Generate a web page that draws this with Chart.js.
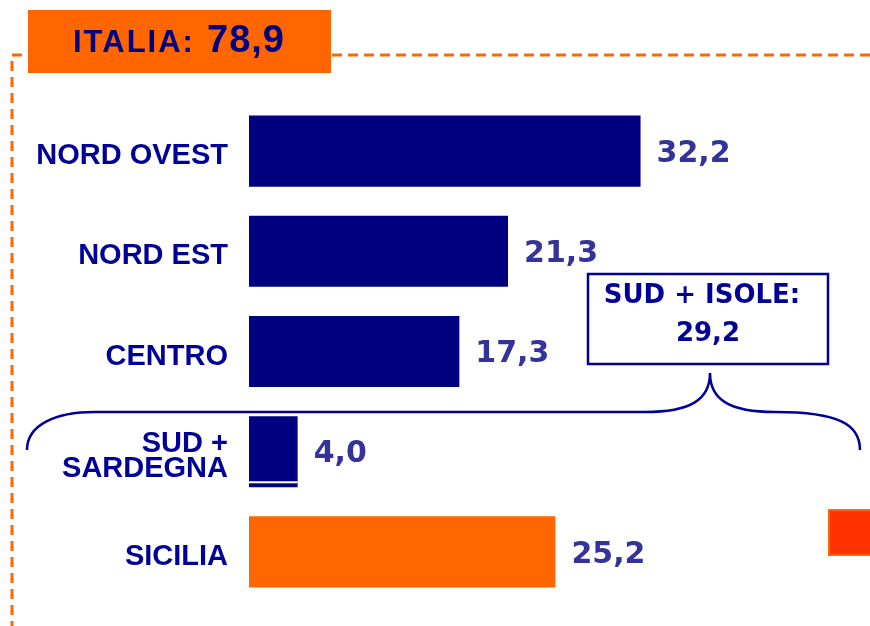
<!DOCTYPE html>
<html>
<head>
<meta charset="utf-8">
<script src="https://cdn.jsdelivr.net/npm/chart.js@4.4.1/dist/chart.umd.min.js"></script>
<style>
  html, body { margin: 0; padding: 0; background: #fff; }
  #wrap { width: 870px; height: 626px; position: relative; }
</style>
</head>
<body>
<div id="wrap"><canvas id="regionChart"></canvas></div>
<script>
// data
const regions = ['NORD OVEST', 'NORD EST', 'CENTRO', ['SUD +', 'SARDEGNA'], 'SICILIA'];
const values = [32.2, 21.3, 17.3, 4.0, 25.2];
const barColors = ['#000080', '#000080', '#000080', '#000080', '#FF6600'];
const italiaTotal = 78.9;
const sudIsoleTotal = 29.2;

const NAVY = '#000099';
const fmt = v => v.toFixed(1).replace('.', ',');

// frame, header box, brace and labels
const decorations = {
  id: 'decorations',
  beforeDraw(chart) {
    const ctx = chart.ctx;
    ctx.save();
    ctx.strokeStyle = '#FF6600';
    ctx.lineWidth = 3;
    ctx.setLineDash([10, 6]);
    ctx.beginPath();
    ctx.moveTo(870, 55);
    ctx.lineTo(12, 55);
    ctx.lineTo(12, 626);
    ctx.stroke();
    ctx.setLineDash([]);

    ctx.fillStyle = '#FF6600';
    ctx.fillRect(28, 10, 303, 63);
    ctx.fillStyle = '#000080';
    ctx.textBaseline = 'alphabetic';
    ctx.font = 'bold 31px "Liberation Sans", Arial, sans-serif';
    ctx.letterSpacing = '2px';
    ctx.fillText('ITALIA:', 73, 52);
    ctx.font = 'bold 38px "Liberation Sans", Arial, sans-serif';
    ctx.letterSpacing = '1px';
    ctx.fillText(fmt(italiaTotal), 207, 52);
    ctx.restore();
  },
  afterDatasetsDraw(chart) {
    const ctx = chart.ctx;
    const meta = chart.getDatasetMeta(0);
    ctx.save();

    // thin white cut near the bottom of the small bar
    const small = meta.data[3];
    ctx.fillStyle = '#fff';
    ctx.fillRect(small.base, small.y + small.height / 2 - 6, small.x - small.base, 2);

    // value labels
    ctx.fillStyle = '#333399';
    ctx.font = 'bold 30px "DejaVu Sans", Verdana, sans-serif';
    ctx.textBaseline = 'middle';
    ctx.textAlign = 'left';
    meta.data.forEach((bar, i) => {
      ctx.fillText(fmt(values[i]), bar.x + 16, bar.y + 3);
    });

    // brace over the south
    ctx.strokeStyle = NAVY;
    ctx.lineWidth = 2.5;
    ctx.beginPath();
    ctx.moveTo(27, 450);
    ctx.bezierCurveTo(27, 425, 55, 412, 95, 412);
    ctx.lineTo(645, 412);
    ctx.bezierCurveTo(690, 412, 710, 400, 710, 373);
    ctx.bezierCurveTo(710, 400, 730, 412, 775, 412);
    ctx.bezierCurveTo(840, 412, 860, 425, 860, 450);
    ctx.stroke();

    // total box
    ctx.fillStyle = '#fff';
    ctx.fillRect(588, 274, 240, 90);
    ctx.strokeRect(588, 274, 240, 90);
    ctx.fillStyle = NAVY;
    ctx.textAlign = 'center';
    ctx.font = 'bold 26px "DejaVu Sans", Verdana, sans-serif';
    ctx.fillText('SUD + ISOLE:', 702, 296);
    ctx.fillText(fmt(sudIsoleTotal), 708, 334);

    // small marker square
    ctx.fillStyle = '#FF3300';
    ctx.fillRect(829, 510, 41, 45);
    ctx.strokeStyle = '#FF6600';
    ctx.lineWidth = 2;
    ctx.strokeRect(829, 510, 42, 45);
    ctx.restore();
  }
};

const ctx = document.getElementById('regionChart').getContext('2d');
new Chart(ctx, {
  type: 'bar',
  data: {
    labels: regions,
    datasets: [{
      data: values,
      backgroundColor: barColors,
      borderWidth: 0,
      barPercentage: 0.71,
      categoryPercentage: 1
    }]
  },
  options: {
    indexAxis: 'y',
    responsive: true,
    maintainAspectRatio: false,
    animation: false,
    layout: { padding: { top: 101, bottom: 24, left: 0, right: 13 } },
    plugins: { legend: { display: false }, tooltip: { enabled: false } },
    scales: {
      x: { display: false, min: 0, max: 50 },
      y: {
        grid: { display: false, drawTicks: false },
        border: { display: false },
        afterFit(scale) {
          scale.width = 249;
          scale.paddingTop = 0;
          scale.paddingBottom = 0;
        },
        ticks: {
          padding: 21,
          labelOffset: 5,
          color: NAVY,
          font: { family: '"Liberation Sans", Arial, sans-serif', size: 29, weight: 'bold', lineHeight: 0.85 }
        }
      }
    }
  },
  plugins: [decorations]
});
</script>
</body>
</html>
